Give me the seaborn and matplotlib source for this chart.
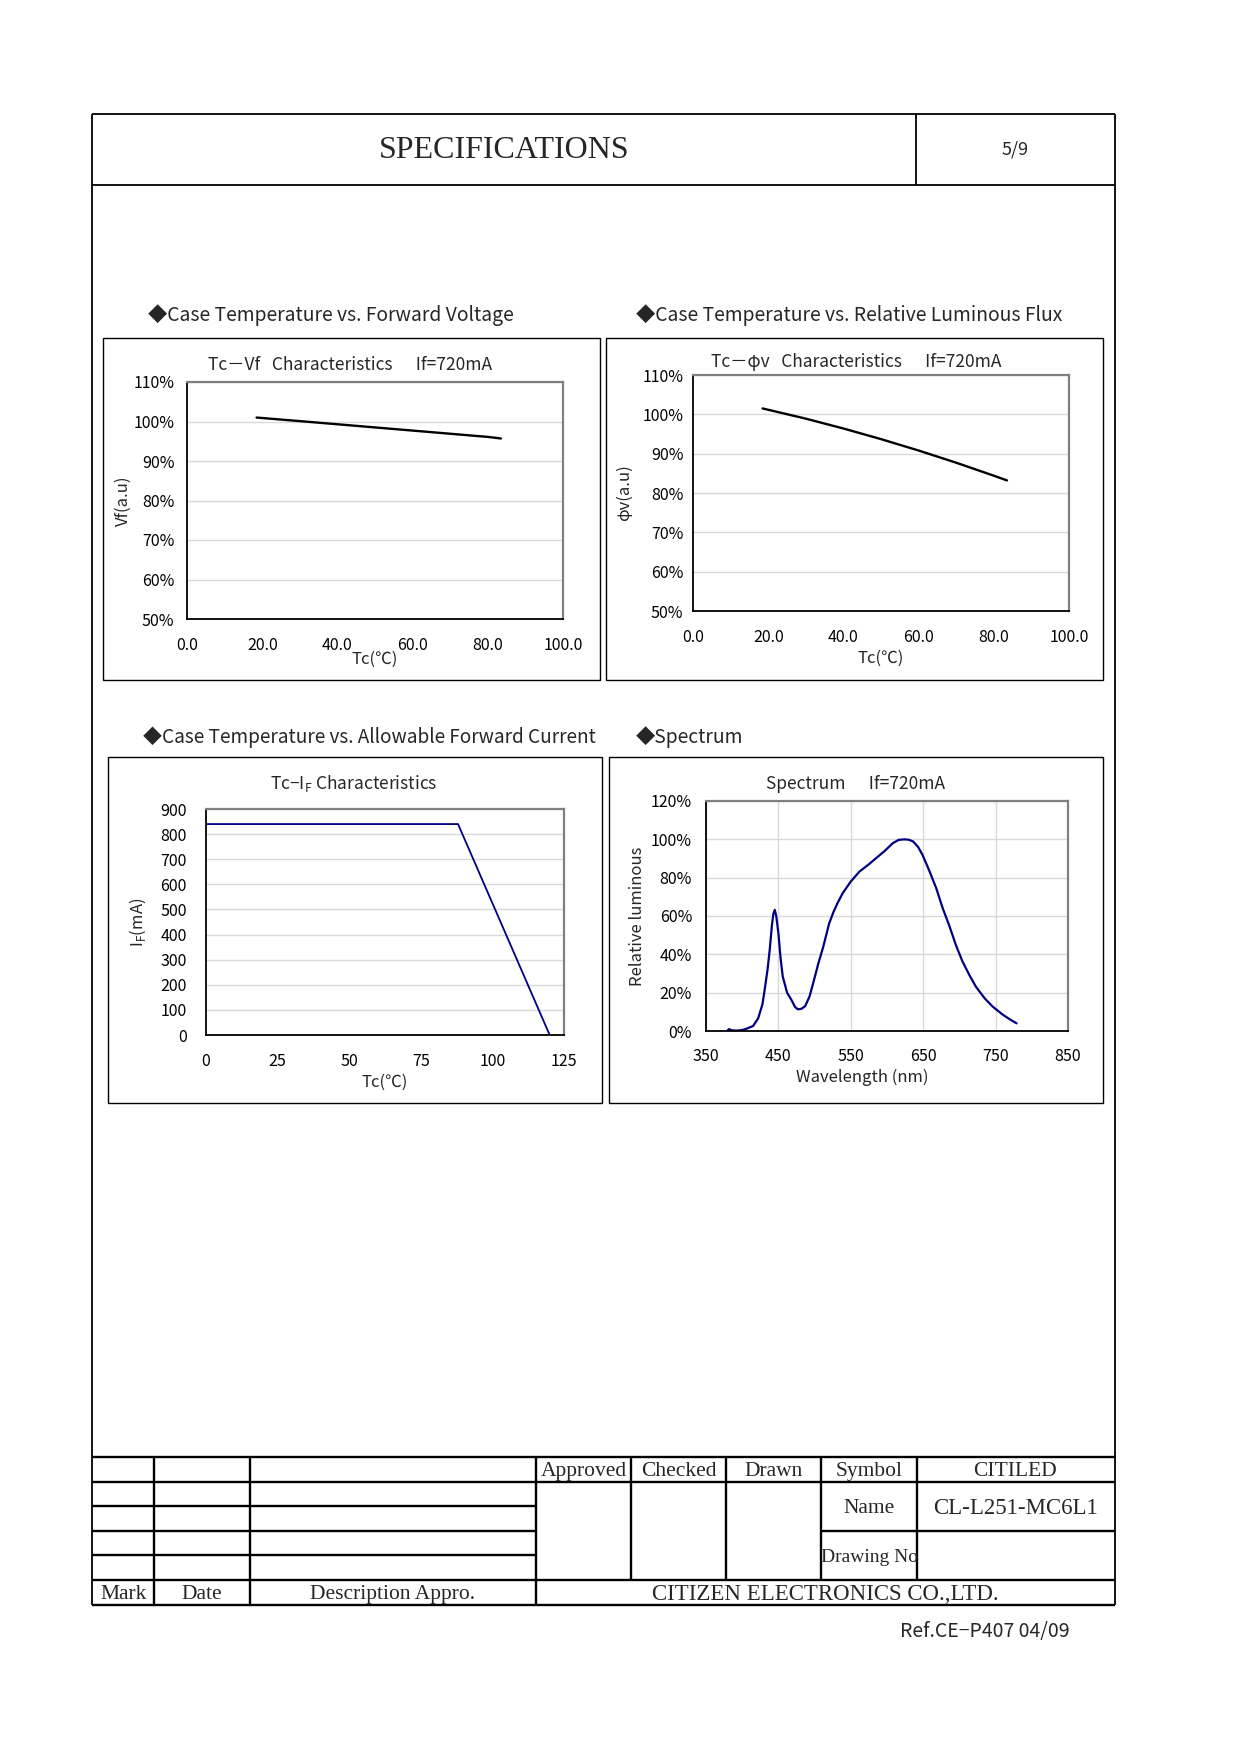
import matplotlib
matplotlib.use("Agg")
import matplotlib.pyplot as plt
from matplotlib.patches import Rectangle
import seaborn as sns

# values
vf_temp = [18.5, 30, 40, 50, 60, 70, 80, 83.5]
vf_rel = [101.0, 100.1, 99.3, 98.5, 97.7, 96.9, 96.1, 95.7]

flux_temp = [18.5, 30, 40, 50, 60, 70, 80, 83.5]
flux_rel = [101.5, 98.9, 96.4, 93.7, 90.8, 87.7, 84.4, 83.2]

if_temp = [0, 88, 120]
if_current = [840, 840, 0]

spec_wl = [380, 382, 385, 392, 400, 406, 415, 422, 428, 431,
           435, 438, 441, 443, 445, 447, 450, 453, 456, 462,
           468, 473, 477, 482, 487, 493, 498, 505, 512, 520,
           526, 532, 539, 550, 562, 575, 585, 597, 608, 616,
           624, 630, 636, 643, 649, 658, 668, 677, 686, 695,
           704, 714, 723, 735, 746, 760, 770, 779]
spec_rel = [0.4, 1.0, 0.4, 0.2, 0.5, 1.2, 2.6, 6.6, 14.0, 21.4,
            32.0, 42.3, 55.0, 61.0, 63.2, 60.0, 51.0, 38.0, 28.4, 20.0,
            16.2, 12.5, 11.3, 11.6, 13.0, 18.0, 24.9, 35.0, 44.0, 56.0,
            62.0, 67.0, 72.0, 78.0, 83.2, 87.0, 90.2, 94.0, 98.0, 99.7,
            100.0, 99.8, 98.9, 96.0, 91.9, 84.0, 74.5, 64.0, 55.0, 45.0,
            36.5, 29.0, 23.0, 17.0, 12.7, 8.5, 6.0, 4.0]

tc_ticks = [0, 20, 40, 60, 80, 100]
pct_ticks = [50, 60, 70, 80, 90, 100, 110]
if_x_ticks = [0, 25, 50, 75, 100, 125]
if_y_ticks = [0, 100, 200, 300, 400, 500, 600, 700, 800, 900]
wl_ticks = [350, 450, 550, 650, 750, 850]
spec_y_ticks = [0, 20, 40, 60, 80, 100, 120]

W, H = 1240, 1754
SERIF = "Liberation Serif"
TICK = 11.5
LABEL = 12

sns.set_style("white")
plt.rcParams["font.family"] = ["Noto Sans CJK JP", "DejaVu Sans"]

fig = plt.figure(figsize=(W / 100, H / 100), dpi=100)
page = fig.add_axes([0, 0, 1, 1], zorder=0)
page.set_xlim(0, W)
page.set_ylim(H, 0)
page.axis("off")


def rect(l, t, r, b):
    return [l / W, 1 - b / H, (r - l) / W, (b - t) / H]


def box(l, t, r, b, lw=1.0):
    page.add_patch(Rectangle((l, t), r - l, b - t, fill=False, ec="black", lw=lw))


def style_chart(ax, xlim, ylim, xticks, yticks, xlabels, ylabels, xpad, ypad, vgrid=False):
    ax.set_xlim(*xlim)
    ax.set_ylim(*ylim)
    ax.set_xticks(xticks)
    ax.set_xticklabels(xlabels)
    ax.set_yticks(yticks)
    ax.set_yticklabels(ylabels)
    ax.tick_params(axis="both", direction="in", length=4, width=1, labelsize=TICK, colors="black")
    ax.tick_params(axis="x", pad=xpad)
    ax.tick_params(axis="y", pad=ypad)
    ax.grid(False)
    ax.yaxis.grid(True, color="#d9d9d9", lw=1)
    if vgrid:
        ax.xaxis.grid(True, color="#d9d9d9", lw=1)
    ax.set_axisbelow(True)
    for s in ["left", "bottom"]:
        ax.spines[s].set_color("black")
        ax.spines[s].set_linewidth(1.3)
    for s in ["top", "right"]:
        ax.spines[s].set_color("#808080")
        ax.spines[s].set_linewidth(1.6)


# ---- page frame and header ----
page.vlines([92, 1114.5], 114, 1605, color="black", lw=1.3)
page.hlines([114, 184.6], 92, 1114.5, color="black", lw=1.3)
page.vlines(916, 114, 184.6, color="black", lw=1.3)
page.text(504, 151, "SPECIFICATIONS", family=SERIF, fontsize=23, ha="center", va="center")
page.text(1015, 150, "5/9", fontsize=13, ha="center", va="center")

# ---- section headers ----
page.text(148, 315, "◆Case Temperature vs. Forward Voltage", fontsize=13.9, va="center")
page.text(636, 315, "◆Case Temperature vs. Relative Luminous Flux", fontsize=13.9, va="center")
page.text(143, 737, "◆Case Temperature vs. Allowable Forward Current", fontsize=13.7, va="center")
page.text(636, 737, "◆Spectrum", fontsize=13.9, va="center")

# ---- chart boxes ----
box(103, 338, 600, 680)
box(606, 338, 1103, 680)
box(108, 757, 602, 1103)
box(609, 757, 1103, 1103)

# ---- Tc - Vf ----
ax1 = fig.add_axes(rect(187, 382, 563, 619))
sns.lineplot(x=vf_temp, y=vf_rel, ax=ax1, color="black", linewidth=1.7, estimator=None)
style_chart(ax1, (0, 100), (50, 110), tc_ticks, pct_ticks,
            [f"{v:.1f}" for v in tc_ticks], [f"{v}%" for v in pct_ticks], 13, 9)
ax1.set_xlabel("Tc(℃)", fontsize=LABEL, va="center")
ax1.xaxis.set_label_coords(0.5, -0.172)
ax1.set_ylabel("Vf(a.u)", fontsize=LABEL, va="center")
ax1.yaxis.set_label_coords(-0.170, 0.5)
page.text(350, 365, "Tc－Vf   Characteristics      If=720mA", fontsize=12.5, ha="center", va="center")

# ---- Tc - flux ----
ax2 = fig.add_axes(rect(693, 375, 1069, 611))
sns.lineplot(x=flux_temp, y=flux_rel, ax=ax2, color="black", linewidth=1.7, estimator=None)
style_chart(ax2, (0, 100), (50, 110), tc_ticks, pct_ticks,
            [f"{v:.1f}" for v in tc_ticks], [f"{v}%" for v in pct_ticks], 13, 7)
ax2.set_xlabel("Tc(℃)", fontsize=LABEL, va="center")
ax2.xaxis.set_label_coords(0.5, -0.2)
ax2.set_ylabel("φv(a.u)", fontsize=LABEL, va="center")
ax2.yaxis.set_label_coords(-0.181, 0.5)
page.text(856, 362, "Tc－φv   Characteristics      If=720mA", fontsize=12.5, ha="center", va="center")

# ---- Tc - IF ----
ax3 = fig.add_axes(rect(206, 809, 564, 1035))
sns.lineplot(x=if_temp, y=if_current, ax=ax3, color="#000080", linewidth=1.3, estimator=None)
style_chart(ax3, (0, 125), (0, 900), if_x_ticks, if_y_ticks,
            [str(v) for v in if_x_ticks], [str(v) for v in if_y_ticks], 13, 14)
ax3.set_xlabel("Tc(℃)", fontsize=LABEL, va="center")
ax3.xaxis.set_label_coords(0.5, -0.208)
ax3.set_ylabel(r"I$_\mathregular{F}$(mA)", fontsize=LABEL, va="center")
ax3.yaxis.set_label_coords(-0.19, 0.5)
page.text(354, 784, r"Tc−I$_\mathregular{F}$ Characteristics", fontsize=12.5, ha="center", va="center")

# ---- Spectrum ----
ax4 = fig.add_axes(rect(706, 801, 1068, 1031))
sns.lineplot(x=spec_wl, y=spec_rel, ax=ax4, color="#000080", linewidth=1.6, estimator=None)
style_chart(ax4, (350, 850), (0, 120), wl_ticks, spec_y_ticks,
            [str(v) for v in wl_ticks], [f"{v}%" for v in spec_y_ticks], 12, 10, vgrid=True)
ax4.set_xlabel("Wavelength (nm)", fontsize=LABEL, va="center")
ax4.xaxis.set_label_coords(0.431, -0.2)
ax4.set_ylabel("Relative luminous", fontsize=LABEL, va="center")
ax4.yaxis.set_label_coords(-0.188, 0.5)
page.text(855, 784, "Spectrum      If=720mA", fontsize=12.5, ha="center", va="center")

# ---- title block table ----
cols = [92, 154.4, 249.5, 536, 631, 726, 821, 916.5, 1114.5]
rows = [1457, 1481.5, 1506, 1531, 1555, 1580, 1605]
tlw = 1.7
dy = 2
page.hlines([rows[0], rows[1], rows[5], rows[6]], cols[0], cols[-1], color="black", lw=tlw)
page.hlines([rows[2], rows[3], rows[4]], cols[0], cols[3], color="black", lw=tlw)
page.hlines(rows[3], cols[6], cols[-1], color="black", lw=tlw)
page.vlines([cols[1], cols[2], cols[3]], rows[0], rows[6], color="black", lw=tlw)
page.vlines([cols[4], cols[5], cols[6], cols[7]], rows[0], rows[5], color="black", lw=tlw)

hdr_y = (rows[0] + rows[1]) / 2 + dy
for i, label in enumerate(["Approved", "Checked", "Drawn", "Symbol", "CITILED"]):
    page.text((cols[3 + i] + cols[4 + i]) / 2, hdr_y, label, family=SERIF,
              fontsize=15.5, ha="center", va="center")
name_y = (rows[1] + rows[3]) / 2 + dy
page.text((cols[6] + cols[7]) / 2, name_y, "Name", family=SERIF, fontsize=15.5, ha="center", va="center")
page.text((cols[7] + cols[8]) / 2, name_y, "CL-L251-MC6L1", family=SERIF, fontsize=16.5,
          ha="center", va="center")
dn = page.text(cols[6], (rows[3] + rows[5]) / 2 + dy, "Drawing No", family=SERIF, fontsize=14,
               ha="left", va="center")
dn.set_clip_path(Rectangle((cols[6], rows[3]), cols[7] - cols[6], rows[5] - rows[3],
                           transform=page.transData))
bot_y = (rows[5] + rows[6]) / 2 + dy
page.text((cols[0] + cols[1]) / 2, bot_y, "Mark", family=SERIF, fontsize=15.5, ha="center", va="center")
page.text((cols[1] + cols[2]) / 2, bot_y, "Date", family=SERIF, fontsize=15.5, ha="center", va="center")
page.text((cols[2] + cols[3]) / 2, bot_y, "Description Appro.", family=SERIF, fontsize=15.5,
          ha="center", va="center")
page.text((cols[3] + cols[8]) / 2, bot_y, "CITIZEN ELECTRONICS CO.,LTD.", family=SERIF, fontsize=16.5,
          ha="center", va="center")

page.text(985, 1632, "Ref.CE−P407 04/09", fontsize=14, ha="center", va="center")

fig.savefig("out.png", dpi=100, facecolor="white")
